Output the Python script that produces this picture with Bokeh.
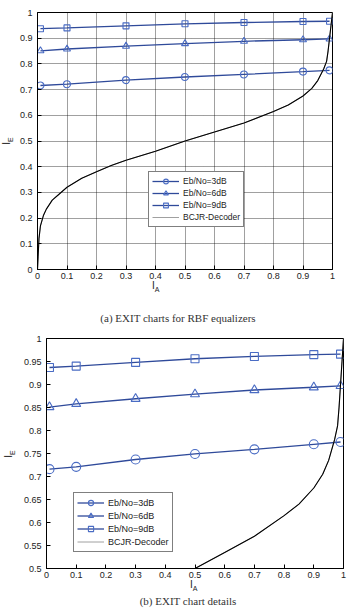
from bokeh.plotting import figure
from bokeh.layouts import column, row
from bokeh.models import Legend, LegendItem, FixedTicker, Range1d, Div
from bokeh.embed import file_html
from bokeh.resources import INLINE

# ---- data ----
ia_points = [0.01, 0.1, 0.3, 0.5, 0.7, 0.9, 0.99]
ie_3db = [0.716, 0.721, 0.737, 0.749, 0.759, 0.770, 0.775]
ie_6db = [0.851, 0.858, 0.869, 0.879, 0.888, 0.894, 0.897]
ie_9db = [0.937, 0.940, 0.948, 0.956, 0.961, 0.965, 0.966]

bcjr_x = [0.0, 0.002, 0.005, 0.01, 0.02, 0.03, 0.05, 0.07, 0.1, 0.15, 0.2, 0.25, 0.3, 0.4,
          0.5, 0.6, 0.7, 0.8, 0.85, 0.9, 0.93, 0.95, 0.97, 0.98, 0.985, 0.99, 0.995, 1.0]
bcjr_y = [0.0, 0.05, 0.12, 0.17, 0.21, 0.235, 0.27, 0.29, 0.32, 0.355, 0.38, 0.405, 0.425, 0.46,
          0.5, 0.535, 0.57, 0.615, 0.64, 0.675, 0.705, 0.735, 0.78, 0.81, 0.85, 0.9, 0.95, 1.0]

series_labels = ["Eb/No=3dB", "Eb/No=6dB", "Eb/No=9dB", "BCJR-Decoder"]
x_ticks = [0, 0.1, 0.2, 0.3, 0.4, 0.5, 0.6, 0.7, 0.8, 0.9, 1]
y_ticks_a = [0, 0.1, 0.2, 0.3, 0.4, 0.5, 0.6, 0.7, 0.8, 0.9, 1]
y_ticks_b = [0.5, 0.55, 0.6, 0.65, 0.7, 0.75, 0.8, 0.85, 0.9, 0.95, 1]
captions = ["(a)  EXIT charts for RBF equalizers", "(b)  EXIT chart details"]

LINE_C = "#2f4a9a"
MARK_C = "#4a6cc4"
SANS = "Liberation Sans"
SERIF = "Liberation Serif"


def style_axis(ax, ticks):
    ax.ticker = FixedTicker(ticks=ticks)
    ax.major_label_overrides = {t: "%g" % t for t in ticks}
    ax.major_tick_in = 4
    ax.major_tick_out = 0
    ax.minor_tick_in = 0
    ax.minor_tick_out = 0
    ax.axis_line_color = "black"
    ax.major_tick_line_color = "black"
    ax.major_label_text_font = SANS
    ax.major_label_text_font_size = "9px"
    ax.major_label_text_color = "#222222"
    ax.major_label_standoff = 3


def make_fig(width, height, yr, yticks, borders, grid, legend_loc,
             msize, font_px, row_h):
    left, right, top, bottom = borders
    p = figure(width=width, height=height, output_backend="svg", toolbar_location=None,
               x_range=Range1d(0, 1), y_range=Range1d(*yr),
               min_border_left=left, min_border_right=right,
               min_border_top=top, min_border_bottom=bottom)
    p.outline_line_color = "black"
    p.background_fill_color = "white"
    style_axis(p.xaxis[0], x_ticks)
    style_axis(p.yaxis[0], yticks)
    p.yaxis[0].major_label_standoff = 5

    if grid:
        p.xgrid.ticker = FixedTicker(ticks=x_ticks)
        p.ygrid.ticker = FixedTicker(ticks=yticks)
        for g in (p.xgrid, p.ygrid):
            g.grid_line_color = "black"
            g.grid_line_alpha = 0.75
            g.grid_line_dash = "1 1"
            g.grid_line_width = 1
    else:
        p.xgrid.visible = False
        p.ygrid.visible = False

    items = []
    for ys, marker, lab in zip([ie_3db, ie_6db, ie_9db], ["circle", "triangle", "square"], series_labels[:3]):
        l = p.line(ia_points, ys, line_color=LINE_C, line_width=1.3)
        s = p.scatter(ia_points, ys, marker=marker, size=msize if marker != "square" else msize - 1,
                      fill_color=None, line_color=MARK_C, line_width=1.1)
        items.append(LegendItem(label=lab, renderers=[l, s]))
    # gray legend swatch line, drawn under the black curve with the same data
    under = p.line(bcjr_x, bcjr_y, line_color="#a0a0a0", line_width=1.0)
    p.line(bcjr_x, bcjr_y, line_color="black", line_width=1.1)
    items.append(LegendItem(label=series_labels[3], renderers=[under]))

    leg = Legend(items=items, location=legend_loc)
    leg.label_text_font = SANS
    leg.label_text_font_size = font_px
    leg.label_text_color = "#222222"
    leg.glyph_height = row_h
    leg.glyph_width = 27
    leg.label_height = row_h
    leg.label_standoff = 4
    leg.spacing = 0
    leg.padding = 3
    leg.margin = 0
    leg.border_line_color = "black"
    leg.border_line_width = 1
    leg.background_fill_alpha = 1
    p.add_layout(leg, "center")
    return p


def ylabel_div(width, height, letter):
    html = ('<div style="width:%dpx;height:%dpx;display:flex;align-items:center;justify-content:center;'
            'font-family:\'%s\';font-size:10px;color:#222;">'
            '<span style="display:inline-block;transform:rotate(-90deg);white-space:nowrap;">'
            'I<sub style="font-size:7px;">%s</sub></span></div>') % (width, height, SANS, letter)
    return Div(text=html, width=width, height=height, margin=0)


def xlabel_caption_div(height, lab_x, lab_top, cap_x, cap_top, caption):
    html = ('<div style="position:relative;width:348px;height:%dpx;">'
            '<span style="position:absolute;left:%dpx;top:%dpx;font-family:\'%s\';font-size:10px;color:#222;'
            'white-space:nowrap;">I<sub style="font-size:7px;">A</sub></span>'
            '<span style="position:absolute;left:%dpx;top:%dpx;transform:translateX(-50%%);'
            'font-family:\'%s\';font-size:11px;color:#333;white-space:nowrap;">%s</span>'
            '</div>') % (height, lab_x, lab_top, SANS, cap_x, cap_top, SERIF, caption)
    return Div(text=html, width=348, height=height, margin=0)


# figure 1: page frame x 37..332, y 12..269
p1 = make_fig(332, 281, (0, 1), y_ticks_a, (21, 16, 12, 12), True, (111, 42), 7, "8.5px", 12)
# figure 2: page frame x 43..343, y 338..568
p2 = make_fig(328, 252, (0.5, 1), y_ticks_b, (23, 5, 10, 12), False, (27, 16), 9, "9px", 13)

layout = column(
    row(ylabel_div(16, 281, "E"), p1, spacing=0),
    xlabel_caption_div(47, 152, -2, 178, 30, captions[0]),
    row(ylabel_div(20, 252, "E"), p2, spacing=0),
    xlabel_caption_div(36, 190, -2, 188, 14, captions[1]),
    spacing=0,
)
open("out.html", "w").write(file_html(layout, INLINE))
